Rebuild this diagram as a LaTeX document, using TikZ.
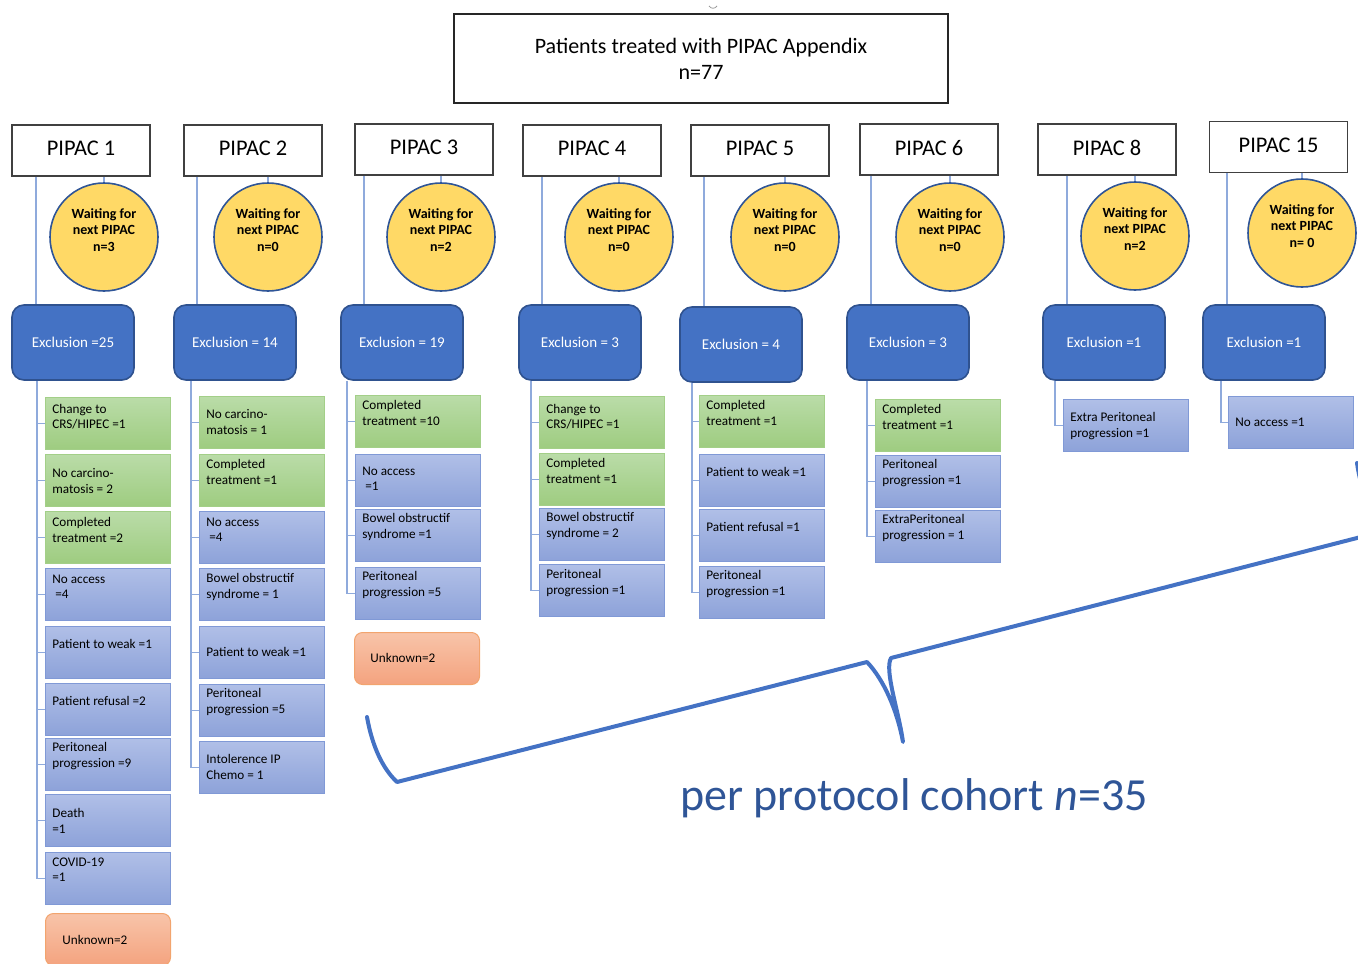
\documentclass[tikz,border=0pt]{standalone}
\usepackage{fontspec}
\setmainfont{Carlito}
\usetikzlibrary{calc,shadings}
\definecolor{connc}{HTML}{8FAADC}
\definecolor{exfill}{HTML}{4472C4}
\definecolor{exborder}{HTML}{2F528F}
\definecolor{cfill}{HTML}{FFD966}
\definecolor{cborder}{HTML}{2F5597}
\definecolor{gtop}{HTML}{BADCA8}
\definecolor{gbot}{HTML}{9ECC80}
\definecolor{gborder}{HTML}{A3CF88}
\definecolor{btop}{HTML}{B0BFE7}
\definecolor{bbot}{HTML}{8DA2D9}
\definecolor{bborder}{HTML}{8099D6}
\definecolor{otop}{HTML}{F8C4A9}
\definecolor{obot}{HTML}{F4A37F}
\definecolor{oborder}{HTML}{F2A46E}
\definecolor{braceblue}{HTML}{4472C4}
\definecolor{cohort}{HTML}{2F5597}
\newcommand\cell[6]{%
  \node[#4, anchor=north west] (#1) at (#2,#3) {};
  \node[celltext] (#1t) at (#2+7,#5) {#6};}
\newcommand\hraise[1]{\raisebox{2pt}{#1}}
\begin{document}
\begin{tikzpicture}[x=0.5pt,y=-0.5pt,
  titlebox/.style={draw=black!85, line width=0.8pt, minimum width=247pt, minimum height=44.5pt, align=center, inner sep=0pt, font=\fontsize{11pt}{13pt}\selectfont},
  hdr/.style={draw=black!75, line width=0.8pt, fill=white, minimum width=69pt, minimum height=25.5pt, inner sep=0pt, font=\fontsize{11.2pt}{13pt}\selectfont},
  excl/.style={draw=exborder, fill=exfill, rounded corners=6pt, line width=0.8pt, minimum width=61pt, minimum height=37.5pt, inner sep=0pt, text=white, font=\fontsize{7.5pt}{9pt}\selectfont},
  wcirc/.style={circle, draw=cborder, fill=cfill, line width=0.8pt, minimum size=54pt, inner sep=0pt},
  wtext/.style={align=center, inner sep=0pt, font=\fontsize{7pt}{8.3pt}\selectfont\bfseries},
  cellg/.style={draw=gborder, top color=gtop, bottom color=gbot, line width=0.5pt, minimum width=62.5pt, minimum height=26pt, inner sep=0pt},
  cellb/.style={draw=bborder, top color=btop, bottom color=bbot, line width=0.5pt, minimum width=62.5pt, minimum height=26pt, inner sep=0pt},
  cello/.style={draw=oborder, top color=otop, bottom color=obot, line width=0.5pt, rounded corners=4pt, minimum width=62.5pt, minimum height=26pt, inner sep=0pt},
  celltext/.style={anchor=west, align=left, inner sep=0pt, font=\fontsize{6.6pt}{7.6pt}\selectfont},
  connline/.style={draw=connc, line width=0.65pt},
  brace/.style={draw=braceblue, line width=2pt, line join=round, line cap=round}]
\useasboundingbox (0,0) rectangle (1358,963);

% tiny mark
\draw[black!40, line width=0.4pt] (709,6) .. controls (711,9) and (715,9) .. (717,6);

% title
\node[titlebox] (title) at (701,58.5) {Patients treated with PIPAC Appendix\\n=77};

% headers
\node[hdr] (h1) at (81,150.5) {\hraise{PIPAC 1}};
\node[hdr] (h2) at (253,150.5) {\hraise{PIPAC 2}};
\node[hdr] (h3) at (424,149.5) {\hraise{PIPAC 3}};
\node[hdr] (h4) at (592,150.5) {\hraise{PIPAC 4}};
\node[hdr] (h5) at (760,150.5) {\hraise{PIPAC 5}};
\node[hdr] (h6) at (929,149.5) {\hraise{PIPAC 6}};
\node[hdr] (h8) at (1107,149.5) {\hraise{PIPAC 8}};
\node[hdr] (h15) at (1278.5,147) {\hraise{PIPAC 15}};

% circles
\foreach \n/\cx/\cy/\v in {1/104/237/n=3, 2/268/237/n=0, 3/441/237/n=2, 4/619/237/n=0, 5/785/237/n=0, 6/950/237/n=0, 8/1135/236/n=2, 15/1302/233/n= 0}{
  \node[wcirc] (w\n) at (\cx,\cy) {};
  \node[wtext] (w\n t) at (\cx,\cy-7) {Waiting for\\next PIPAC\\\v};
  \draw[connline] (h\n.south -| w\n.north) -- (w\n.north);
}

% exclusion boxes
\node[excl] (e1) at (73,342.5) {Exclusion =25};
\node[excl] (e2) at (235,342.5) {Exclusion = 14};
\node[excl] (e3) at (402,342.5) {Exclusion = 19};
\node[excl] (e4) at (580,342.5) {Exclusion = 3};
\node[excl] (e5) at (741,344.5) {Exclusion = 4};
\node[excl] (e6) at (908,342.5) {Exclusion = 3};
\node[excl] (e8) at (1104,342.5) {Exclusion =1};
\node[excl] (e15) at (1264,342.5) {Exclusion =1};

% header to exclusion lines
\foreach \n/\ax in {1/36, 2/197, 3/364, 4/542, 5/704, 6/871, 8/1067, 15/1227}{
  \coordinate (a\n) at (\ax,0);
  \draw[connline] (h\n.south -| a\n) -- (e\n.north -| a\n);
}

% trunks below exclusion
\foreach \n/\tx in {1/37, 2/191, 3/347, 4/531, 5/692, 6/867, 8/1055, 15/1221}{
  \coordinate (t\n) at (\tx,0);
}

% PIPAC 1 items
\cell{c1a}{45}{397}{cellg}{417}{Change to\\CRS/HIPEC =1}
\cell{c1b}{45}{454}{cellg}{481}{No carcino-\\matosis = 2}
\cell{c1c}{45}{511}{cellg}{530}{Completed\\treatment =2}
\cell{c1d}{45}{568}{cellb}{587}{No access\\\ =4}
\cell{c1e}{45}{626}{cellb}{644}{Patient to weak =1}
\cell{c1f}{45}{683}{cellb}{701}{Patient refusal =2}
\cell{c1g}{45}{738}{cellb}{756}{Peritoneal\\progression =9}
\cell{c1h}{45}{794}{cellb}{821}{Death\\=1}
\cell{c1i}{45}{852}{cellb}{870}{COVID-19\\=1}
\node[cello, anchor=north west] (u1) at (45,913) {};
\node[celltext] (u1t) at (62,940) {Unknown=2};
\foreach \k in {a,b,c,d,e,f,g,h,i}{\draw[connline] (c1\k.west) -| (e1.south -| t1);}

% PIPAC 2 items
\cell{c2a}{199}{396}{cellg}{422}{No carcino-\\matosis = 1}
\cell{c2b}{199}{454}{cellg}{472}{Completed\\treatment =1}
\cell{c2c}{199}{511}{cellb}{530}{No access\\\ =4}
\cell{c2d}{199}{568}{cellb}{587}{Bowel obstructif\\syndrome = 1}
\cell{c2e}{199}{626}{cellb}{652}{Patient to weak =1}
\cell{c2f}{199}{684}{cellb}{702}{Peritoneal\\progression =5}
\cell{c2g}{199}{741}{cellb}{767}{Intolerence IP\\Chemo = 1}
\foreach \k in {a,b,c,d,e,f,g}{\draw[connline] (c2\k.west) -| (e2.south -| t2);}

% PIPAC 3 items
\cell{c3a}{355}{395}{cellg}{413}{Completed\\treatment =10}
\cell{c3b}{355}{454}{cellb}{479}{No access\\\ =1}
\cell{c3c}{355}{509}{cellb}{527}{Bowel obstructif\\syndrome =1}
\cell{c3d}{355}{567}{cellb}{585}{Peritoneal\\progression =5}
\node[cello, anchor=north west] (u3) at (354,632) {};
\node[celltext] (u3t) at (370,658) {Unknown=2};
\foreach \k in {a,b,c,d}{\draw[connline] (c3\k.west) -| (e3.south -| t3);}

% PIPAC 4 items
\cell{c4a}{539}{396}{cellg}{417}{Change to\\CRS/HIPEC =1}
\cell{c4b}{539}{453}{cellg}{471}{Completed\\treatment =1}
\cell{c4c}{539}{508}{cellb}{526}{Bowel obstructif\\syndrome = 2}
\cell{c4d}{539}{564}{cellb}{583}{Peritoneal\\progression =1}
\foreach \k in {a,b,c,d}{\draw[connline] (c4\k.west) -| (e4.south -| t4);}

% PIPAC 5 items
\cell{c5a}{699}{395}{cellg}{413}{Completed\\treatment =1}
\cell{c5b}{699}{454}{cellb}{472}{Patient to weak =1}
\cell{c5c}{699}{509}{cellb}{527}{Patient refusal =1}
\cell{c5d}{699}{566}{cellb}{584}{Peritoneal\\progression =1}
\foreach \k in {a,b,c,d}{\draw[connline] (c5\k.west) -| (e5.south -| t5);}

% PIPAC 6 items
\cell{c6a}{875}{399}{cellg}{417}{Completed\\treatment =1}
\cell{c6b}{875}{455}{cellb}{473}{Peritoneal\\progression =1}
\cell{c6c}{875}{510}{cellb}{528}{ExtraPeritoneal\\progression = 1}
\foreach \k in {a,b,c}{\draw[connline] (c6\k.west) -| (e6.south -| t6);}

% PIPAC 8 item
\cell{c8a}{1063}{399}{cellb}{426}{Extra Peritoneal\\progression =1}
\draw[connline] (c8a.west) -| (e8.south -| t8);

% PIPAC 15 item
\cell{c15a}{1228}{396}{cellb}{422}{No access =1}
\draw[connline] (c15a.west) -| (e15.south -| t15);

% brace
\begin{scope}
\clip (0,0) rectangle (1358,963);
\draw[brace] (367,717) .. controls (372,745) and (382,768) .. (397,782) -- (867,662)
  .. controls (884,680) and (897,710) .. (903,742)
  .. controls (899,712) and (884,670) .. (891,658) -- (1388,530)
  .. controls (1372,515) and (1361,492) .. (1357,463);
\end{scope}

% cohort label
\node[text=cohort, inner sep=0pt, font=\fontsize{23pt}{27pt}\selectfont] (coh) at (914,798) {per protocol cohort \textit{n}=35};
\end{tikzpicture}
\end{document}
